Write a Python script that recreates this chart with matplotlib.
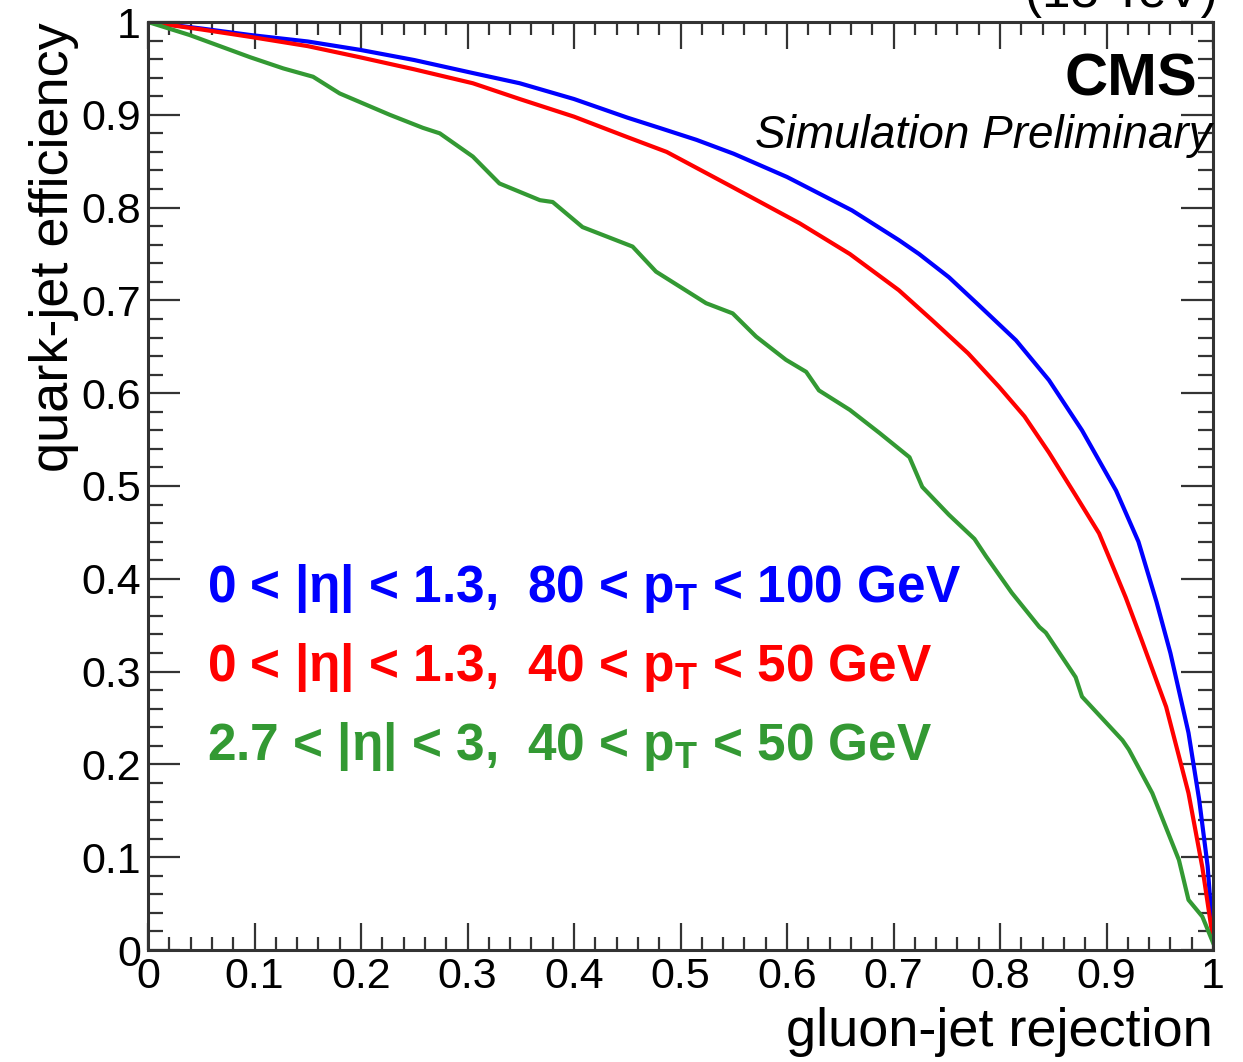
import matplotlib
matplotlib.use("Agg")
import matplotlib.pyplot as plt
from matplotlib.ticker import MultipleLocator, FormatStrFormatter

# ---------------- data ----------------
blue_x = [0, 0.05, 0.096, 0.15, 0.199, 0.25, 0.305, 0.349, 0.40, 0.45, 0.48, 0.515, 0.55,
          0.60, 0.661, 0.705, 0.724, 0.752, 0.78, 0.815, 0.846, 0.877, 0.909, 0.93, 0.947,
          0.96, 0.977, 0.987, 0.995, 1.0]
blue_y = [1.0, 0.993, 0.986, 0.979, 0.970, 0.959, 0.945, 0.934, 0.917, 0.897, 0.886, 0.873, 0.858,
          0.833, 0.797, 0.765, 0.750, 0.725, 0.695, 0.657, 0.614, 0.560, 0.495, 0.44, 0.375,
          0.32, 0.234, 0.162, 0.09, 0.012]

red_x = [0, 0.05, 0.096, 0.15, 0.199, 0.25, 0.305, 0.349, 0.40, 0.45, 0.487, 0.549, 0.612,
         0.659, 0.705, 0.736, 0.77, 0.799, 0.823, 0.846, 0.871, 0.893, 0.909, 0.918, 0.933,
         0.956, 0.977, 0.990, 1.0]
red_y = [1.0, 0.992, 0.984, 0.974, 0.962, 0.949, 0.934, 0.917, 0.898, 0.876, 0.860, 0.822, 0.783,
         0.750, 0.711, 0.679, 0.643, 0.607, 0.575, 0.536, 0.490, 0.449, 0.405, 0.380, 0.334,
         0.262, 0.169, 0.089, 0.012]

green_x = [0, 0.039, 0.096, 0.127, 0.155, 0.180, 0.227, 0.258, 0.274, 0.305, 0.330, 0.368,
           0.380, 0.408, 0.455, 0.477, 0.524, 0.549, 0.571, 0.599, 0.618, 0.630, 0.659, 0.687,
           0.715, 0.727, 0.752, 0.776, 0.787, 0.811, 0.837, 0.843, 0.871, 0.877, 0.915, 0.921,
           0.943, 0.968, 0.977, 0.990, 1.0]
green_y = [1.0, 0.986, 0.962, 0.950, 0.941, 0.923, 0.900, 0.886, 0.880, 0.855, 0.826, 0.808,
           0.806, 0.779, 0.758, 0.731, 0.697, 0.686, 0.661, 0.636, 0.623, 0.603, 0.582, 0.557,
           0.531, 0.499, 0.469, 0.443, 0.424, 0.385, 0.348, 0.342, 0.294, 0.273, 0.226, 0.216,
           0.169, 0.097, 0.054, 0.036, 0.008]

labels = [r"0 < |η| < 1.3,  80 < p$_{\mathrm{T}}$ < 100 GeV",
          r"0 < |η| < 1.3,  40 < p$_{\mathrm{T}}$ < 50 GeV",
          r"2.7 < |η| < 3,  40 < p$_{\mathrm{T}}$ < 50 GeV"]
colors = ["#0000ff", "#ff0000", "#339933"]

# ---------------- style ----------------
plt.rcParams['font.family'] = ['Liberation Sans', 'DejaVu Sans']
plt.rcParams['mathtext.fontset'] = 'custom'
plt.rcParams['mathtext.rm'] = 'Liberation Sans:bold'
plt.rcParams['mathtext.it'] = 'Liberation Sans:bold:italic'
plt.rcParams['mathtext.bf'] = 'Liberation Sans:bold'

fig = plt.figure(figsize=(12.43, 10.62), dpi=100)
ax = fig.add_axes([148/1243, 1 - 950/1062, (1213-148)/1243, (950-22)/1062])

for xs, ys, c in zip([blue_x, red_x, green_x], [blue_y, red_y, green_y], colors):
    ax.plot(xs, ys, color=c, lw=3, solid_joinstyle='round')

ax.set_xlim(0, 1)
ax.set_ylim(0, 1)
ax.xaxis.set_major_locator(MultipleLocator(0.1))
ax.xaxis.set_minor_locator(MultipleLocator(0.02))
ax.yaxis.set_major_locator(MultipleLocator(0.1))
ax.yaxis.set_minor_locator(MultipleLocator(0.02))
ax.xaxis.set_major_formatter(FormatStrFormatter('%g'))
ax.yaxis.set_major_formatter(FormatStrFormatter('%g'))

ax.tick_params(axis='both', which='both', direction='in', top=True, right=True,
               colors='#333333', labelcolor='black', width=1.6)
ax.tick_params(axis='x', which='major', length=19.5, labelsize=31, pad=5)
ax.tick_params(axis='x', which='minor', length=9.5)
ax.tick_params(axis='y', which='major', length=23, labelsize=31, pad=5)
ax.tick_params(axis='y', which='minor', length=11)
for s in ax.spines.values():
    s.set_linewidth(2.2)
    s.set_color('#333333')

ax.set_xlabel("gluon-jet rejection", fontsize=39, loc='right', labelpad=7)
ax.set_ylabel("quark-jet efficiency", fontsize=39, loc='top', labelpad=2)

ax.text(0.985, 0.921, "CMS", transform=ax.transAxes, ha='right', va='baseline',
        fontsize=43, fontweight='bold')
ax.text(0.999, 0.864, "Simulation Preliminary", transform=ax.transAxes, ha='right',
        va='baseline', fontsize=33, fontstyle='italic')

for i, (lab, c) in enumerate(zip(labels, colors)):
    ax.text(0.055, 0.375 - i * 0.085, lab, transform=ax.transAxes, ha='left',
            va='baseline', fontsize=37, fontweight='bold', color=c)

fig.text(1218/1243, 1 - 7/1062, "(13 TeV)", ha='right', va='baseline', fontsize=37)

fig.savefig("out.png", dpi=100)
